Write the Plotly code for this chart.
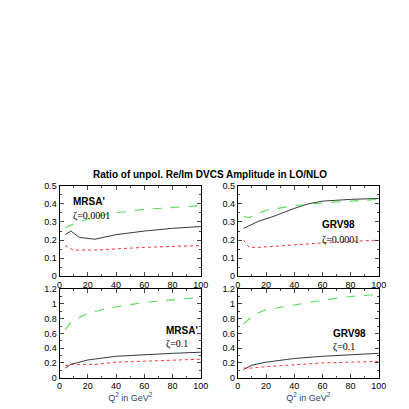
import plotly.graph_objects as go
from plotly.subplots import make_subplots

# top-left: MRSA', zeta=0.0001
tl_black_x = [4, 8, 14, 25, 40, 60, 80, 100]
tl_black_y = [0.23, 0.25, 0.215, 0.205, 0.23, 0.25, 0.265, 0.275]
tl_green_x = [4, 10, 25, 40, 60, 80, 100]
tl_green_y = [0.27, 0.29, 0.33, 0.35, 0.37, 0.38, 0.39]
tl_red_x = [4, 10, 25, 60, 100]
tl_red_y = [0.17, 0.145, 0.145, 0.16, 0.17]
# top-right: GRV98, zeta=0.0001
tr_black_x = [4, 15, 25, 40, 50, 60, 80, 100]
tr_black_y = [0.265, 0.305, 0.33, 0.375, 0.40, 0.415, 0.425, 0.43]
tr_green_x = [4, 8, 20, 40, 60, 80, 100]
tr_green_y = [0.33, 0.325, 0.365, 0.39, 0.405, 0.415, 0.425]
tr_red_x = [4, 8, 15, 40, 70, 100]
tr_red_y = [0.2, 0.16, 0.16, 0.175, 0.19, 0.2]
# bottom-left: MRSA', zeta=0.1
bl_green_x = [4, 8, 12, 20, 30, 40, 60, 80, 100]
bl_green_y = [0.65, 0.75, 0.8, 0.87, 0.92, 0.96, 1.02, 1.06, 1.09]
bl_black_x = [4, 8, 12, 20, 40, 60, 80, 100]
bl_black_y = [0.13, 0.18, 0.2, 0.24, 0.29, 0.315, 0.33, 0.345]
bl_red_x = [4, 8, 12, 25, 40, 60, 80, 100]
bl_red_y = [0.16, 0.18, 0.18, 0.18, 0.21, 0.22, 0.24, 0.25]
# bottom-right: GRV98, zeta=0.1
br_green_x = [4, 8, 12, 20, 40, 60, 80, 100]
br_green_y = [0.73, 0.8, 0.86, 0.92, 0.99, 1.05, 1.1, 1.13]
br_black_x = [4, 10, 20, 40, 60, 80, 100]
br_black_y = [0.11, 0.17, 0.21, 0.26, 0.29, 0.31, 0.33]
br_red_x = [4, 10, 20, 40, 60, 80, 100]
br_red_y = [0.13, 0.13, 0.15, 0.18, 0.2, 0.21, 0.22]

panels = [
    (1, 1, tl_black_x, tl_black_y, tl_green_x, tl_green_y, tl_red_x, tl_red_y),
    (1, 2, tr_black_x, tr_black_y, tr_green_x, tr_green_y, tr_red_x, tr_red_y),
    (2, 1, bl_black_x, bl_black_y, bl_green_x, bl_green_y, bl_red_x, bl_red_y),
    (2, 2, br_black_x, br_black_y, br_green_x, br_green_y, br_red_x, br_red_y),
]

fig = make_subplots(rows=2, cols=2)
for r, c, bx, by, gx, gy, rx, ry in panels:
    fig.add_trace(go.Scatter(x=bx, y=by, mode="lines", line=dict(color="#222222", width=0.9)), row=r, col=c)
    fig.add_trace(go.Scatter(x=gx, y=gy, mode="lines", line=dict(color="#55dd55", width=1.1, dash="dash")), row=r, col=c)
    fig.add_trace(go.Scatter(x=rx, y=ry, mode="lines", line=dict(color="#ff3333", width=1, dash="dot")), row=r, col=c)

xdom = [[0.122, 0.477], [0.570, 0.924]]
ydom = [[0.340, 0.567], [0.086, 0.308]]
axis_style = dict(showgrid=False, zeroline=False, showline=True, mirror="ticks", linecolor="black",
                  linewidth=1, ticks="inside", ticklen=4, tickfont=dict(family="Liberation Sans", size=9, color="black"),
                  minor=dict(ticks="inside", ticklen=2))
for i, (r, c) in enumerate([(1, 1), (1, 2), (2, 1), (2, 2)]):
    fig.update_xaxes(axis_style, domain=xdom[c - 1], range=[0, 100], dtick=20, row=r, col=c,
                     minor_dtick=10)
    if r == 1:
        fig.update_yaxes(axis_style, domain=ydom[0], range=[0, 0.5], dtick=0.1, row=r, col=c, minor_dtick=0.05)
    else:
        fig.update_yaxes(axis_style, domain=ydom[1], range=[0, 1.2], dtick=0.2, row=r, col=c, minor_dtick=0.1)

fig.update_xaxes(title=dict(text="Q<sup>2</sup> in GeV<sup>2</sup>", font=dict(family="Liberation Sans", size=9), standoff=2), row=2)

labels = [
    ("x", "y", 8, 0.455, "MRSA'", 0.375, "ζ=0.0001"),
    ("x2", "y2", 58, 0.325, "GRV98", 0.245, "ζ=0.0001"),
    ("x3", "y3", 74, 0.74, "MRSA'", 0.56, "ζ=0.1"),
    ("x4", "y4", 66, 0.7, "GRV98", 0.52, "ζ=0.1"),
]
for xr, yr, x0, y1, name, y2, zeta in labels:
    fig.add_annotation(xref=xr, yref=yr, x=x0, y=y1, text="<b>" + name + "</b>", showarrow=False, xanchor="left",
                       yanchor="top", font=dict(family="Liberation Sans", size=10, color="black"))
    fig.add_annotation(xref=xr, yref=yr, x=x0, y=y2, text=zeta, showarrow=False, xanchor="left",
                       yanchor="top", font=dict(family="Liberation Serif", size=10, color="black"))

fig.add_annotation(xref="paper", yref="paper", x=0.5, y=1 - 166 / 409, text="<b>Ratio of unpol. Re/Im DVCS Amplitude in LO/NLO</b>",
                   showarrow=False, font=dict(family="Liberation Sans", size=10, color="black"))

fig.update_layout(width=409, height=409, margin=dict(l=0, r=0, t=0, b=0), showlegend=False,
                  plot_bgcolor="white", paper_bgcolor="white")
fig.write_html("out.html")
